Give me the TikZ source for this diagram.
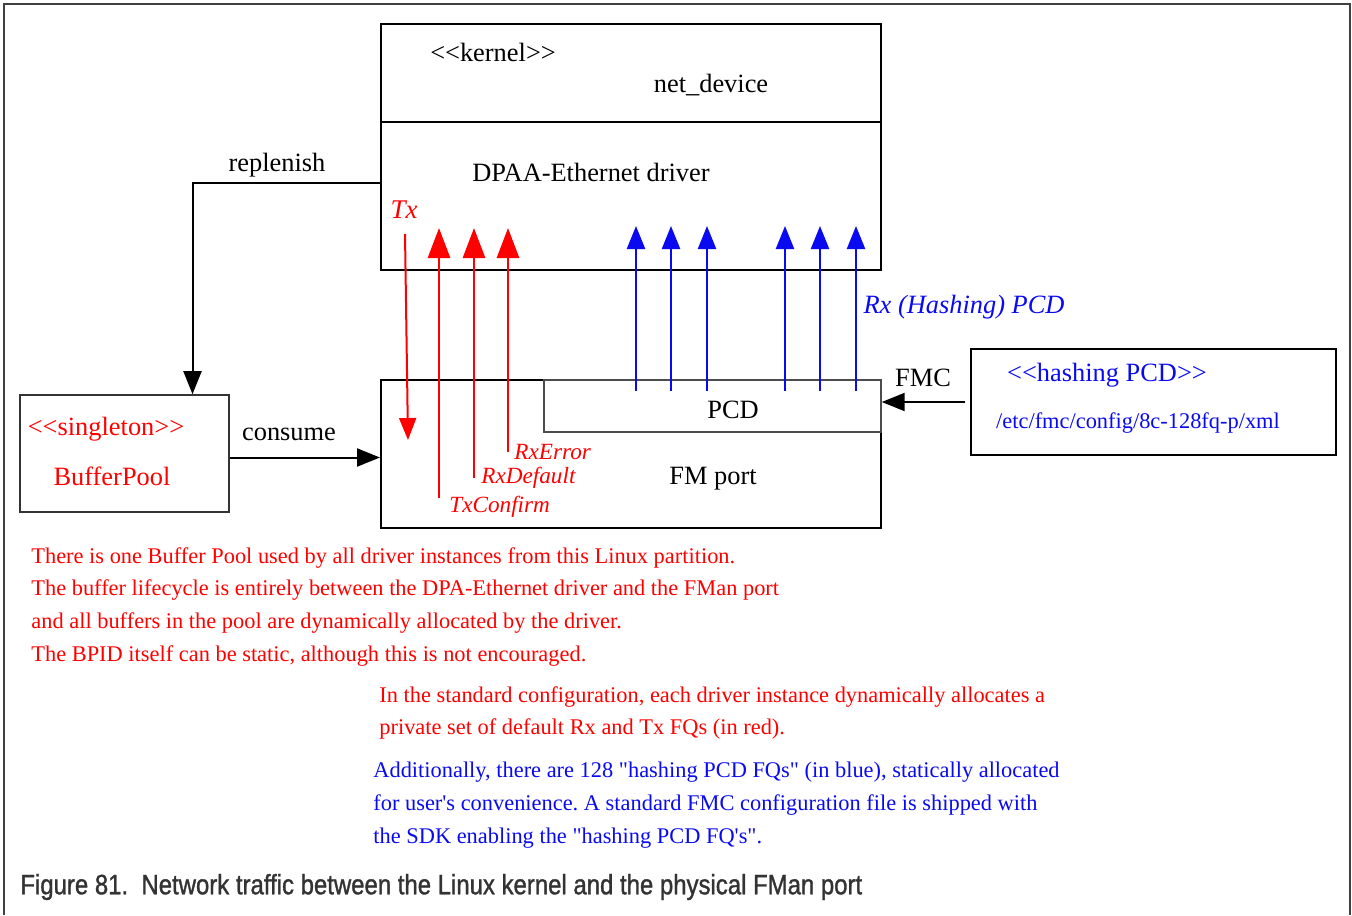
\documentclass[tikz,border=0pt]{standalone}
\usepackage{fontspec}
\setmainfont{Liberation Serif}[Ligatures=TeXOff]
\newfontfamily\capfont{Liberation Sans}[FakeStretch=0.855, FakeBold=1.2]
\usetikzlibrary{arrows.meta}
\definecolor{fqred}{RGB}{255,0,0}
\definecolor{fqblue}{RGB}{10,10,240}
\newcommand{\uml}[1]{<{}<#1>{}>}
\frenchspacing

\begin{document}
\begin{tikzpicture}[x=0.5pt, y=-0.5pt, every node/.style={font=\fontsize{13.2}{15}\selectfont, inner sep=0pt},
	box/.style={draw, line width=1pt, fill=white},
	conn/.style={line width=1pt, -{Triangle[length=11.5pt, width=9pt]}},
	fqtx/.style={fqred, line width=1.4pt, -{Triangle[length=15pt, width=11pt]}},
	fqrx/.style={fqblue, line width=1.2pt, -{Triangle[length=11.5pt, width=9pt]}},
	fqname/.style={fqred, font=\fontsize{11.6}{13}\selectfont\itshape, anchor=west},
	note/.style={align=left, anchor=north west, font=\fontsize{11.2}{16.4}\selectfont}]
	\useasboundingbox (0,0) rectangle (1352,915);
	\draw[black!75, line width=1.2pt] (4,915) -- (4,4) -- (1350,4) -- (1350,915);

	% boxes
	\node[box, minimum width=250pt, minimum height=49pt] (netdev) at (631,73) {};
	\node[box, minimum width=250pt, minimum height=74pt] (dpaa) at (631,196) {};
	\node[box, minimum width=250pt, minimum height=74pt] (fmport) at (631,454) {};
	\node[draw=black!70, line width=0.7pt, fill=white, minimum width=168.5pt, minimum height=26pt] (pcd) at (712.5,406) {};
	\node[draw=black!80, line width=0.8pt, minimum width=104.5pt, minimum height=58.5pt] (pool) at (124.5,453.5) {};
	\node[draw, line width=0.8pt, minimum width=182.5pt, minimum height=53pt] (hash) at (1153.5,402) {};

	\node (kernel) at (493,52) {\uml{kernel}};
	\node (netname) at (711,85) {net\_device};
	\node (dpaaname) at (591,172) {DPAA-Ethernet driver};
	\node (fmname) at (713,479) {FM port};
	\node (pcdname) at (733,410) {PCD};
	\node[fqred] (single) at (106,429) {\uml{singleton}};
	\node[fqred] (poolname) at (112,476) {BufferPool};
	\node[fqblue] (hashname) at (1107,375) {\uml{hashing PCD}};
	\node[fqblue, font=\fontsize{11.2}{13}\selectfont] (hashfile) at (1138,423) {/etc/fmc/config/8c-128fq-p/xml};

	% replenish / consume / FMC
	\draw[conn] ([yshift=6.5pt]dpaa.west) -| ([xshift=34pt]pool.north);
	\node (repl) at (277,165) {replenish};
	\draw[conn] ([yshift=-2pt]pool.east) -- ([yshift=-2pt]pool.east -| fmport.west);
	\node (cons) at (289,434) {consume};
	\draw[conn] ([xshift=-2.5pt]hash.west) -- (hash.west -| pcd.east);
	\node (fmc) at (923,378) {FMC};

	% default FQs
	\coordinate (tx-hi) at (405,234);
	\coordinate (tx-lo) at (408,440);
	\draw[fqred, line width=1pt, -{Triangle[length=11pt, width=8.5pt]}] (tx-hi) -- (tx-lo);
	\node[fqred, font=\fontsize{13.5}{15}\selectfont\itshape] (txlabel) at (404,210) {Tx};
	\foreach \x/\yb/\nm in {439/498/TxConfirm, 474/478/RxDefault, 508/452/RxError} {
		\coordinate (\nm-lo) at (\x,\yb);
		\coordinate (\nm-hi) at (\x,228);
		\draw[fqtx] (\nm-lo) -- (\nm-hi);
	}
	\node[fqname] (txc) at (449,507) {TxConfirm};
	\node[fqname] (rxd) at (481,478) {RxDefault};
	\node[fqname] (rxe) at (514,452) {RxError};

	% hashing FQs
	\foreach \x [count=\i] in {636,671,707,785,820,856} {
		\coordinate (h\i-lo) at (\x,391);
		\coordinate (h\i-hi) at (\x,226);
		\draw[fqrx] (h\i-lo) -- (h\i-hi);
	}
	\node[fqblue, font=\fontsize{13.2}{15}\selectfont\itshape] (rxpcd) at (964,307) {Rx (Hashing) PCD};

	% notes
	\node[note, text=fqred] (note1) at (31,547) {There is one Buffer Pool used by all driver instances from this Linux partition.\\
		The buffer lifecycle is entirely between the DPA-Ethernet driver and the FMan port\\
		and all buffers in the pool are dynamically allocated by the driver.\\
		The BPID itself can be static, although this is not encouraged.};
	\node[note, text=fqred] (note2) at (379,686) {In the standard configuration, each driver instance dynamically allocates a\\
		private set of default Rx and Tx FQs (in red).};
	\node[note, text=fqblue] (note3) at (373,762) {Additionally, there are 128 "hashing PCD FQs" (in blue), statically allocated\\
		for user's convenience. A standard FMC configuration file is shipped with\\
		the SDK enabling the "hashing PCD FQ's".};

	\node[anchor=west, font=\capfont\fontsize{14}{16}\selectfont, text=black!80] (caption) at (20,887) {Figure 81.\ \ Network traffic between the Linux kernel and the physical FMan port};
\end{tikzpicture}
\end{document}
